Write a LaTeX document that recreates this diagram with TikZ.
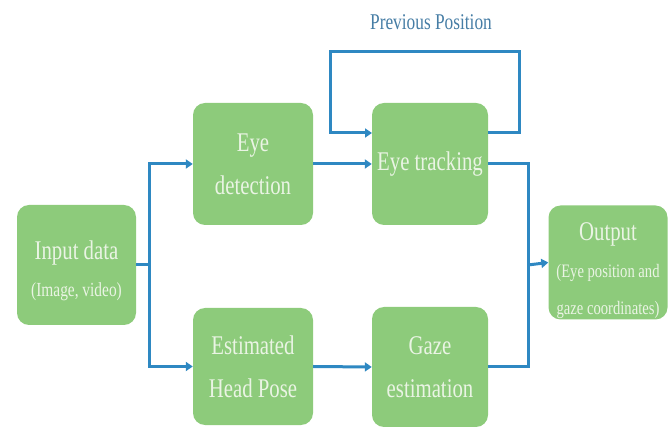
\documentclass[tikz,border=0pt]{standalone}
\usepackage{fontspec}
\setmainfont{Liberation Serif}[FakeStretch=0.77]
\usetikzlibrary{arrows.meta}
\definecolor{boxgreen}{RGB}{141,203,123}
\definecolor{txtlight}{RGB}{234,244,228}
\definecolor{lineblue}{RGB}{46,136,194}
\definecolor{labblue}{RGB}{70,125,165}
\tikzset{
  box/.style={fill=boxgreen, draw=none, rounded corners=12pt, align=center,
    text=txtlight, inner sep=0pt, font=\fontsize{27}{43}\selectfont},
  conn/.style={draw=lineblue, line width=3pt},
  arr/.style={conn, -{Triangle[length=7pt,width=9pt]}}
}
\begin{document}
\begin{tikzpicture}[x=1pt,y=-1pt]
\useasboundingbox (0,0) rectangle (672,427);
\node[box, minimum width=119pt, minimum height=120pt] (in) at (76.5,265)
  {\rule{0pt}{30pt}Input data\\[-6pt]\fontsize{20}{24}\selectfont (Image, video)};
\node[box, minimum width=120pt, minimum height=122pt] (det) at (253,164)
  {Eye\\detection};
\node[box, minimum width=116pt, minimum height=122pt] (trk) at (430,164)
  {Eye tracking};
\node[box, minimum width=120pt, minimum height=117pt] (hp) at (253,366.5)
  {Estimated\\Head Pose};
\node[box, minimum width=116pt, minimum height=120pt] (gz) at (430,367)
  {Gaze\\estimation};
\node[box, minimum width=119pt, minimum height=114pt] (out) at (608,262.5)
  {\rule{0pt}{34pt}Output\\[-6pt]\fontsize{19}{24}\selectfont (Eye position and\\[-6pt]\fontsize{19}{24}\selectfont gaze coordinates)};
\node[text=labblue, font=\fontsize{22.5}{26}\selectfont] (prev) at (431,22) {Previous Position};

\coordinate (split) at (149,265);
\coordinate (join) at (528,265);
\coordinate (loopR) at (519,52);
\coordinate (loopL) at (330,52);
\coordinate (trkOut) at (488,133);
\coordinate (trkIn) at (372,133);

\draw[conn] (in.east) -- (split);
\draw[arr] (split) |- (det.west);
\draw[arr] (split) |- (hp.west);
\draw[arr] (det.east) -- (trk.west);
\draw[arr] (hp.east) -- (gz.west);
\draw[arr] (trkOut) -| (loopR) -- (loopL) |- (trkIn);
\draw[conn] (trk.east) -| (join);
\draw[conn] (gz.east) -| (join);
\draw[arr] (join) -- (out.west);
\end{tikzpicture}
\end{document}
